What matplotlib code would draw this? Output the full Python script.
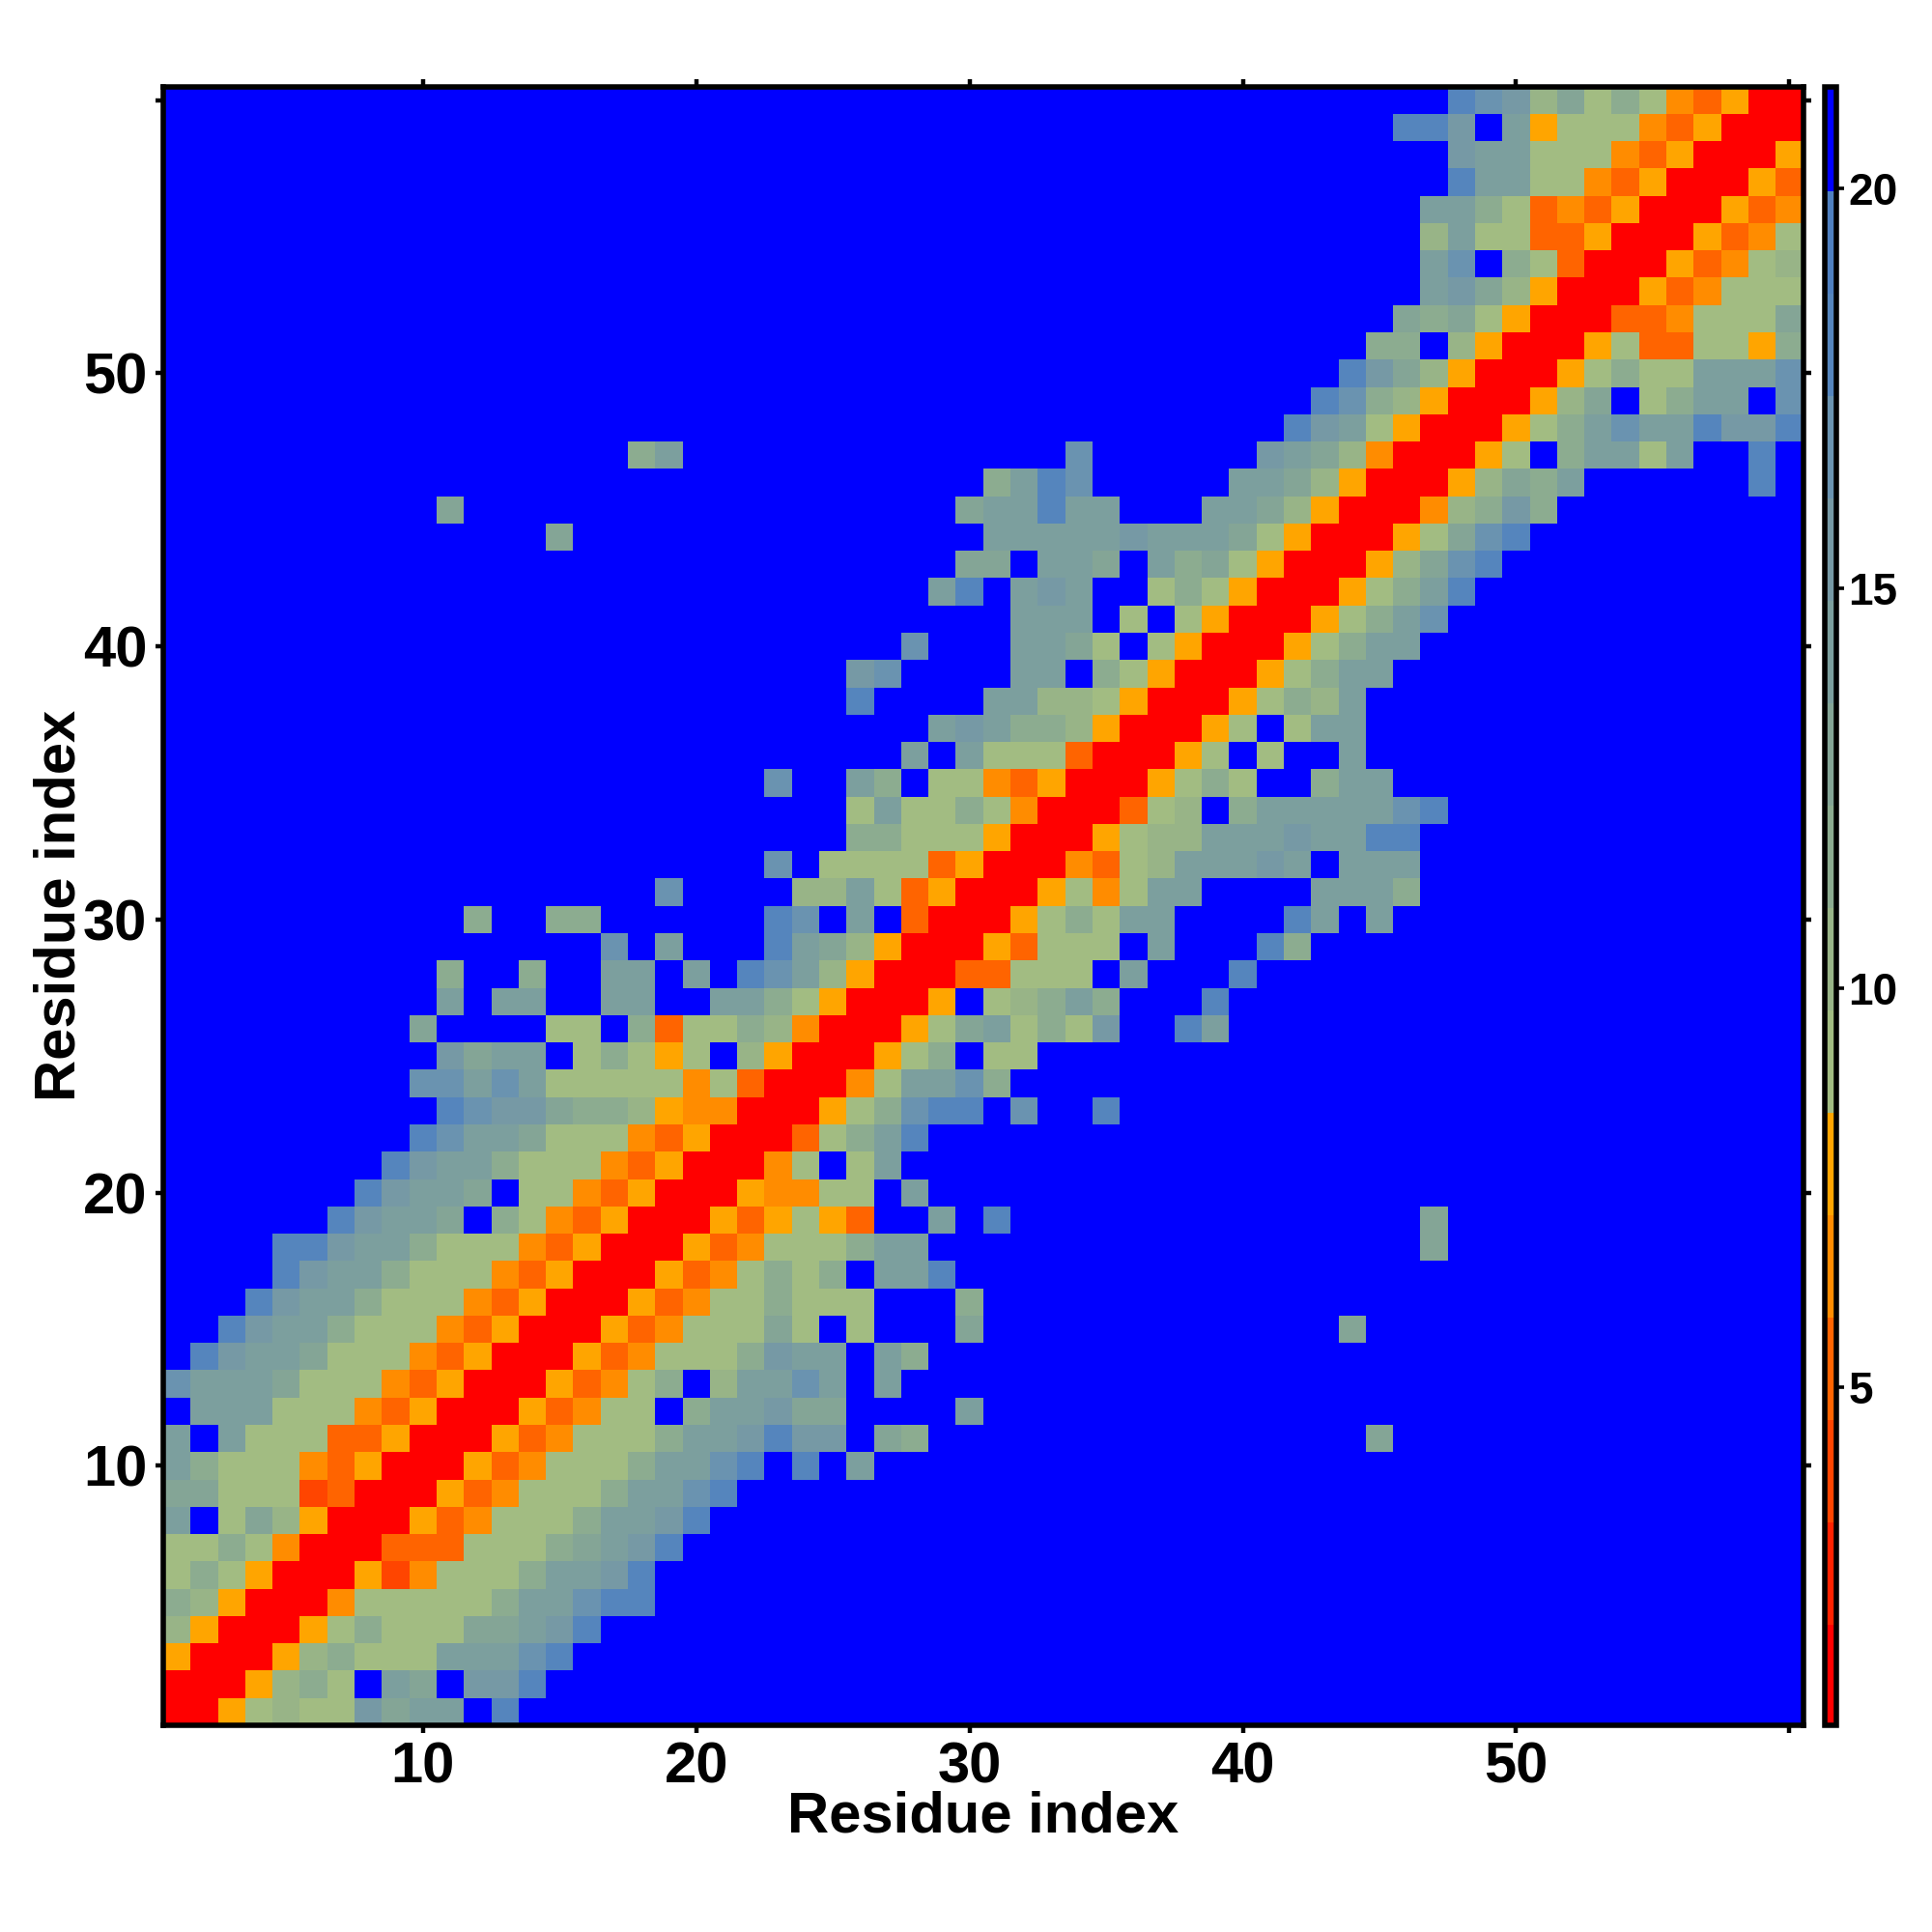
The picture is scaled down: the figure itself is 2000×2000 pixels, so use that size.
import numpy as np
import matplotlib
matplotlib.use("Agg")
import matplotlib.pyplot as plt
from matplotlib.colors import ListedColormap

plt.rcParams['font.family'] = ['Liberation Sans', 'DejaVu Sans']
plt.rcParams['font.weight'] = 'bold'

# Each row: colour-bin (0-15, hex digit) per residue column, from residue 1 upward.
# Rows are listed from residue 1 (bottom) to residue 60 (top). Missing columns are bin f.
ROWS = [
 "00 5 6 7 66 b 9 a a f d",
 "000 5 7 8 6 f a 9 f b b d",
 "5 000 5 7 8 666 a a a c d",
 "7 5 000 5 6 8 666 9 9 a b d",
 "8 7 5 000 4 66666 8 a a c d d",
 "6 8 6 5 000 5 2 4 666 8 a a b d",
 "66 8 6 4 000 333 666 8 9 a b d",
 "a f 6 9 7 5 000 5 3 4 666 8 a a b d",
 "99 666 2 3 000 5 3 4 666 8 a a c d",
 "a 8 666 4 3 5 000 5 3 4 666 8 a a c d f d f a",
 "a f a 666 33 5 000 5 3 4 666 8 a a b d b b f 9 8" + "f"*16 + "9",
 "f aaa 666 4 3 5 000 5 3 4 66 f 8 a a b 9 9 ffff a",
 "c a a a 9 666 4 3 5 000 5 3 4 6 8 f 7 a a c a f a",
 "f d b a a 9 666 4 3 5 000 5 3 4 666 8 b a a f a 8",
 "ff d b a a 8 666 4 3 5 000 5 3 4 666 9 6 f 6 fff 9" + "f"*13 + "9",
 "fff d b a a 8 666 4 3 5 000 5 3 4 66 8 666 fff 8",
 "ffff d b a a 8 666 4 3 5 000 5 3 4 6 8 6 8 f a a d",
 "ffff d d b a a 8 666 4 3 5 000 5 3 4 666 8 a a" + "f"*18 + "9",
 "ffffff d b a a 9 f 8 6 4 3 5 000 5 3 5 6 5 3 ff a f d" + "f"*15 + "9",
 "fffffff d b a a 9 f 66 4 3 5 000 5 44 66 f a",
 "ffffffff d b a a 8 666 4 3 5 000 4 6 f 6 a",
 "f"*9 + "d c a a 9 666 4 3 5 000 3 6 8 a d",
 "f"*10 + "d c b b 9 8 8 7 5 4 4 000 5 6 8 c d d f c f f d",
 "f"*9 + "c c a c a 66666 4 6 3 000 4 6 a a c 8",
 "f"*10 + "b 9 a a f 6 8 6 5 6 f 7 5 000 5 6 8 f 6 6",
 "f"*9 + "9 ffff 66 f 8 3 66 8 7 4 000 5 6 9 a 6 8 6 b ff d a",
 "f"*10 + "a f a a ff a a ff a a 8 6 5 000 5 f 6 7 8 a 8 fff d",
 "f"*10 + "8 ff 8 ff a a f a f d c a 7 5 000 3 3 666 f a fff d",
 "f"*16 + "c f a fff d a 9 7 5 000 5 3 666 f a fff d 8",
 "f"*11 + "8 ff 88 ffffff d c f a f 3 000 5 6 8 6 a a ffff d a f a",
 "f"*18 + "c ffff 7 7 a 6 3 5 000 5 6 4 6 a a ffff a a a 8",
 "f"*22 + "c f 6666 3 5 000 4 3 6 7 aaa b a f aaa",
 "f"*25 + "88 666 5 000 5 6 77 aaa b aa dd",
 "f"*25 + "6 a 66 8 6 4 000 3 6 7 f 8 aaaaa c d",
 "f"*22 + "c ff a 8 f 66 4 3 5 000 5 6 8 6 ff 8 aa",
 "f"*27 + "a f a 666 3 000 5 6 f 6 ff a",
 "f"*28 + "a b a 88 7 5 000 5 6 f 6 aa",
 "f"*25 + "d ffff aa 77 6 5 000 5 6 8 7 a",
 "f"*25 + "b c ffff aa f 8 6 5 000 5 6 8 aa",
 "f"*27 + "c fff aa 9 6 f 6 5 000 5 6 8 aa",
 "f"*31 + "aaa f 6 f 6 5 000 5 6 8 a c",
 "f"*28 + "a d f a b a ff 6 8 6 5 000 5 6 8 a d",
 "f"*29 + "9 9 f aa 9 f a 8 9 6 5 000 5 7 9 c d",
 "f"*14 + "9" + "f"*15 + "aaaaa b aaa 9 6 5 000 5 6 9 c d",
 "f"*10 + "9" + "f"*18 + "9 aa d aa fff aa 9 7 5 000 4 7 8 b 8",
 "f"*30 + "8 a d c fffff aa 9 7 5 000 5 7 9 8 a ffffff d",
 "f"*17 + "8 a" + "f"*14 + "c" + "f"*6 + "b a 9 7 4 000 5 6 f 8 aa 6 a ff d",
 "f"*41 + "d b a 6 5 000 5 6 8 a c a a d b b d",
 "f"*42 + "d c 8 7 5 000 5 7 9 f 6 8 a a f c",
 "f"*43 + "d b 9 7 5 000 5 6 8 66 aaa c",
 "f"*44 + "88 f 7 5 000 5 6 33 66 5 8",
 "f"*45 + "9 8 9 6 5 000 33 4 666 9",
 "f"*46 + "a b 9 7 5 000 5 3 4 666",
 "f"*46 + "a c f 8 6 3 000 5 3 4 6 7",
 "f"*46 + "7 a 66 33 5 000 5 3 4 6",
 "f"*46 + "aa 8 6 3 4 3 5 000 5 3 4",
 "f"*47 + "d aa 66 4 3 5 000 5 3",
 "f"*47 + "b aa 666 4 3 5 000 5",
 "f"*45 + "dd b f a 5 666 4 3 5 000",
 "f"*47 + "d c b 7 9 6 8 6 4 3 5 00",
]
SCALE_MIN = 0.77
SCALE_MAX = 21.28
BIN_COLORS = ["#FF0000", "#FF2200", "#FF4500", "#FF6400", "#FF8C00", "#FFA500",
              "#A2BC82", "#98B487", "#8CAC90", "#84A596", "#7C9F9E", "#7699A5",
              "#6A93B0", "#5585BD", "#4F80C0", "#0000FF"]
TICKS = [10, 20, 30, 40, 50, 60]
TICK_TEXT = ["10", "20", "30", "40", "50", ""]
CBAR_TICKS = [5, 10, 15, 20]
AXIS_LABEL = "Residue index"

step = (SCALE_MAX - SCALE_MIN) / len(BIN_COLORS)
bins = np.array([[int(c, 16) for c in r.replace(" ", "").ljust(60, "f")] for r in ROWS])
assert bins.shape == (60, 60)
distance = SCALE_MIN + (bins + 0.5) * step
cmap = ListedColormap(BIN_COLORS)

W = 2000.0
fig = plt.figure(figsize=(10, 10), dpi=200, facecolor="white")
L, R, T, B = 169.0, 1866.5, 89.5, 1786.0
ax = fig.add_axes([L / W, 1 - B / W, (R - L) / W, (B - T) / W])
edges = np.arange(0.5, 61, 1)
mesh = ax.pcolormesh(edges, edges, distance, cmap=cmap, vmin=SCALE_MIN, vmax=SCALE_MAX,
                     linewidth=0, rasterized=True)
ax.set_xlim(0.5, 60.5)
ax.set_ylim(0.5, 60.5)
ax.set_aspect("auto")
for s in ax.spines.values():
    s.set_linewidth(2.0)
ax.set_xticks(TICKS, TICK_TEXT)
ax.set_yticks(TICKS, TICK_TEXT)
ax.tick_params(direction="out", length=3.0, width=1.6, top=True, right=True,
               labelsize=21.5, pad=3)
for t in ax.get_xticklabels() + ax.get_yticklabels():
    t.set_fontweight("bold")
ax.set_xlabel(AXIS_LABEL, fontsize=21.5, fontweight="bold")
ax.set_ylabel(AXIS_LABEL, fontsize=21.5, fontweight="bold")
ax.xaxis.set_label_coords(0.5, -(1881 - B) / (B - T), transform=ax.transAxes)
ax.xaxis.label.set_verticalalignment("center")
ax.yaxis.set_label_coords(-(L - 62) / (R - L), 0.5, transform=ax.transAxes)
ax.yaxis.label.set_verticalalignment("center")

cax = fig.add_axes([1889 / W, 1 - B / W, 12 / W, (B - T) / W])
cb = fig.colorbar(mesh, cax=cax)
cb.set_ticks(CBAR_TICKS)
cb.solids.set_edgecolor("face")
cb.outline.set_linewidth(2.0)
cax.tick_params(direction="out", length=3.0, width=1.3, labelsize=16.5, pad=1.5)
for t in cax.get_yticklabels():
    t.set_fontweight("bold")

fig.savefig("out.png", dpi=200, facecolor="white")
